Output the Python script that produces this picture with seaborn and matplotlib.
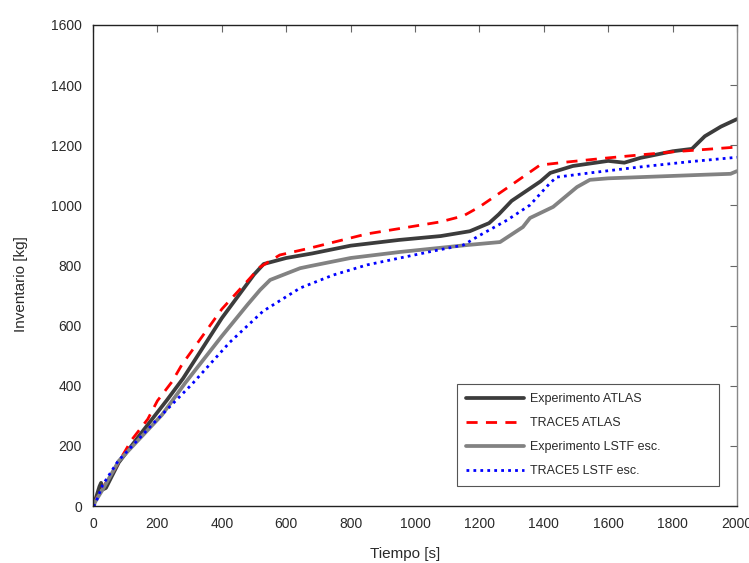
import matplotlib
matplotlib.use("Agg")
import matplotlib.pyplot as plt
import seaborn as sns
import pandas as pd

# ---- data ----
t_exp_atlas = [0, 10, 20, 25, 30, 40, 80, 150, 230, 280, 400, 500, 530, 600, 680, 800, 950,
               1080, 1170, 1230, 1260, 1300, 1390, 1420, 1490, 1600, 1650, 1700, 1800, 1860,
               1900, 1950, 2000]
v_exp_atlas = [0, 30, 65, 77, 55, 60, 145, 243, 353, 425, 625, 770, 805, 825, 840, 866, 885,
               898, 914, 941, 970, 1015, 1080, 1108, 1131, 1148, 1142, 1158, 1180, 1188,
               1230, 1262, 1287]

t_trace_atlas = [0, 20, 60, 120, 170, 200, 245, 276, 400, 519, 580, 674, 850, 1078, 1150,
                 1200, 1286, 1388, 1470, 1600, 1700, 1800, 1900, 2000]
v_trace_atlas = [0, 45, 110, 220, 289, 350, 413, 470, 655, 795, 835, 858, 905, 945, 965,
                 995, 1058, 1134, 1144, 1158, 1168, 1178, 1186, 1194]

t_exp_lstf = [0, 10, 30, 80, 214, 286, 400, 480, 519, 550, 643, 674, 800, 953, 1161, 1264,
              1335, 1357, 1429, 1503, 1543, 1600, 1700, 1800, 1900, 1980, 2000]
v_exp_lstf = [0, 20, 55, 150, 303, 409, 565, 670, 719, 752, 791, 798, 825, 845, 868, 878,
              928, 958, 995, 1061, 1085, 1090, 1094, 1098, 1102, 1105, 1114]

t_trace_lstf = [0, 6, 30, 78, 183, 307, 425, 528, 643, 745, 851, 953, 1056, 1150, 1202, 1286,
                1357, 1419, 1440, 1543, 1700, 1850, 2000]
v_trace_lstf = [0, 5, 70, 150, 270, 405, 545, 648, 725, 768, 802, 825, 848, 868, 901, 951,
                1001, 1074, 1094, 1108, 1128, 1145, 1160]

labels = ["Experimento ATLAS", "TRACE5 ATLAS", "Experimento LSTF esc.", "TRACE5 LSTF esc."]
x_ticks = [0, 200, 400, 600, 800, 1000, 1200, 1400, 1600, 1800, 2000]
y_ticks = [0, 200, 400, 600, 800, 1000, 1200, 1400, 1600]

# ---- style ----
sns.set_style("white")
plt.rcParams["font.family"] = ["Liberation Sans", "DejaVu Sans"]

fig = plt.figure(figsize=(7.49, 5.63), dpi=100)
ax = fig.add_axes([0.1242, 0.1012, 0.8598, 0.8544])

series = [
    (t_exp_atlas, v_exp_atlas, labels[0], "#3c3c3c", "-", 2.7),
    (t_trace_atlas, v_trace_atlas, labels[1], "#ff0000", (0, (4, 3)), 2.0),
    (t_exp_lstf, v_exp_lstf, labels[2], "#828282", "-", 2.7),
    (t_trace_lstf, v_trace_lstf, labels[3], "#0000ff", (0, (1, 1.5)), 2.0),
]
for tx, vy, lab, col, ls, lw in series:
    df = pd.DataFrame({"Tiempo": tx, "Inventario": vy})
    sns.lineplot(data=df, x="Tiempo", y="Inventario", ax=ax, color=col, linestyle=ls,
                 linewidth=lw, label=lab, sort=False, estimator=None)

ax.set_xlim(0, 2000)
ax.set_ylim(0, 1600)
ax.set_xticks(x_ticks)
ax.set_yticks(y_ticks)
ax.set_xlabel("Tiempo [s]", fontsize=11, color="#2a2a2a")
ax.set_ylabel("Inventario [kg]", fontsize=11, color="#2a2a2a")
ax.xaxis.set_label_coords(0.4845, -0.086)
ax.yaxis.set_label_coords(-0.101, 0.4615)
ax.tick_params(direction="in", length=5, width=0.8, colors="#666666",
               top=True, right=True, labelsize=10, labelcolor="#2a2a2a", pad=8)
for side in ["left", "bottom", "top"]:
    ax.spines[side].set_color("#222222")
    ax.spines[side].set_linewidth(1.0)
ax.spines["right"].set_color("#888888")
ax.spines["right"].set_linewidth(1.0)

leg = ax.legend(loc="upper left", bbox_to_anchor=(0.5652, 0.0374, 0.4068, 0.2162),
                mode="expand", fontsize=9, handlelength=4.6, labelspacing=0.95,
                borderpad=0.75, handletextpad=0.5, fancybox=False, framealpha=1,
                edgecolor="#555555", borderaxespad=0)
leg.get_frame().set_linewidth(0.8)
for txt in leg.get_texts():
    txt.set_color("#2a2a2a")

fig.savefig("out.png", dpi=100)
